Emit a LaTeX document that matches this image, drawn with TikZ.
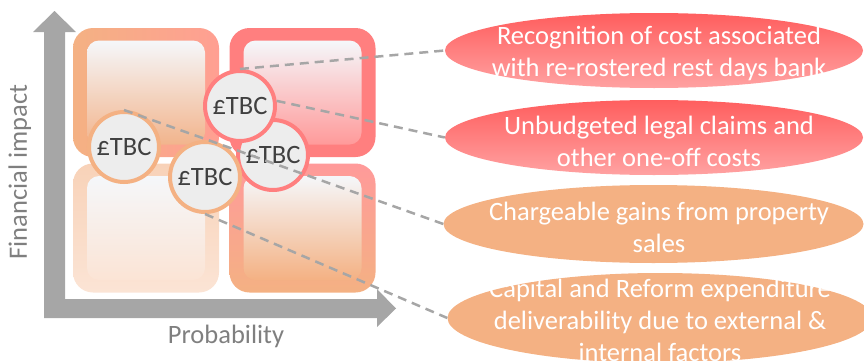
\documentclass[tikz,border=0pt]{standalone}
\usepackage{fontspec}
\setmainfont{Carlito}
\usetikzlibrary{shapes.geometric}

\definecolor{axisgray}{HTML}{A6A6A6}
\definecolor{labelgray}{HTML}{7F7F7F}
\definecolor{riskorange}{HTML}{F4B183}
\definecolor{riskred}{HTML}{FF7F7F}
\definecolor{riskpink}{HTML}{FF9F92}
\definecolor{palepeach}{HTML}{F8D2B8}
\definecolor{palerpeach}{HTML}{FBE4D5}
\definecolor{paleface}{HTML}{F5F7FA}
\definecolor{innerorange}{HTML}{F2B48C}
\definecolor{innerpink}{HTML}{FF9A9A}
\definecolor{tbcfill}{HTML}{EDEDED}
\definecolor{tbctext}{HTML}{404040}
\definecolor{pilltop}{HTML}{FF5E5E}
\definecolor{pillbottom}{HTML}{FFA2A2}

\begin{document}
\begin{tikzpicture}[x=1pt,y=1pt]
\tikzstyle{every node}=[inner sep=0pt, font=\fontsize{26.5}{32}\selectfont]
\tikzstyle{outerbox}=[rounded corners=20pt, minimum width=146pt, minimum height=129pt]
\tikzstyle{innerbox}=[rounded corners=12pt, minimum width=118pt, minimum height=104pt]
\tikzstyle{tbc}=[circle, minimum size=70pt, line width=4pt, fill=tbcfill, text=tbctext]
\tikzstyle{pill}=[ellipse, minimum width=418pt, minimum height=75pt]
\tikzstyle{pilltext}=[align=center, text=white]
\tikzstyle{leader}=[draw=axisgray, line width=2.5pt, dash pattern=on 9pt off 6pt]
\useasboundingbox (0,0) rectangle (864,360);
\clip (0,0) rectangle (864,360);
% axes
\fill[axisgray] (44,42) -- (377,42) -- (377,33) -- (396,51.5) -- (377,71) -- (377,61)
  -- (65,61) -- (65,328) -- (76,328) -- (54.5,349) -- (33,328) -- (44,328) -- cycle;
\node (xlab) [text=labelgray, anchor=base] at (226,17) {Probability};
\node (ylab) [text=labelgray, anchor=base, rotate=90] at (27,188) {Financial impact};
% quadrants
\node (q1) [outerbox, left color=riskorange, middle color=riskorange, right color=riskpink] at (146,267.5) {};
\node (q1i) [innerbox, top color=paleface, bottom color=innerorange] at (q1) {};
\node (q2) [outerbox, fill=riskred] at (302.5,267.5) {};
\node (q2i) [innerbox, top color=paleface, bottom color=innerpink] at (q2) {};
\node (q3) [outerbox, top color=palepeach, bottom color=palerpeach] at (146,132) {};
\node (q3i) [innerbox, top color=paleface, bottom color=palerpeach] at (q3) {};
\node (q4) [outerbox, top color=innerpink, bottom color=riskorange] at (302.5,132) {};
\node (q4i) [innerbox, top color=paleface, bottom color=riskorange] at (q4) {};
% amounts
\node (tbcB) [tbc, draw=riskred] at (273,205) {£TBC};
\node (tbcA) [tbc, draw=riskred] at (240,254) {£TBC};
\node (tbcC) [tbc, draw=riskorange] at (124,213) {£TBC};
\node (tbcD) [tbc, draw=riskorange] at (205,183) {£TBC};
% risks
\node (e1) [pill, top color=pilltop, bottom color=pillbottom] at (654,309.5) {};
\node (e2) [pill, top color=pilltop, bottom color=pillbottom] at (654,222.5) {};
\node (e3) [pill, fill=riskorange, minimum width=420pt, minimum height=78pt] at (653.5,136) {};
\node (e4) [pill, fill=riskorange, minimum width=425pt, minimum height=90pt] at (660,42) {};
\node (t1) [pilltext] at (659,307) {Recognition of cost associated\\with re-rostered rest days bank};
\node (t2) [pilltext] at (659,219) {Unbudgeted legal claims and\\other one-off costs};
\node (t3) [pilltext] at (659,133) {Chargeable gains from property\\sales};
\node (t4) [pilltext] at (660,40) {Capital and Reform expenditure\\deliverability due to external \&\\internal factors};
% leaders
\draw[leader] (tbcA.north) -- (e1.west);
\draw[leader] (tbcA.8) -- (e2.west);
\draw[leader] (tbcC.north) -- (e3.west);
\draw[leader] (tbcD.south) -- (e4.west);
\end{tikzpicture}
\end{document}
